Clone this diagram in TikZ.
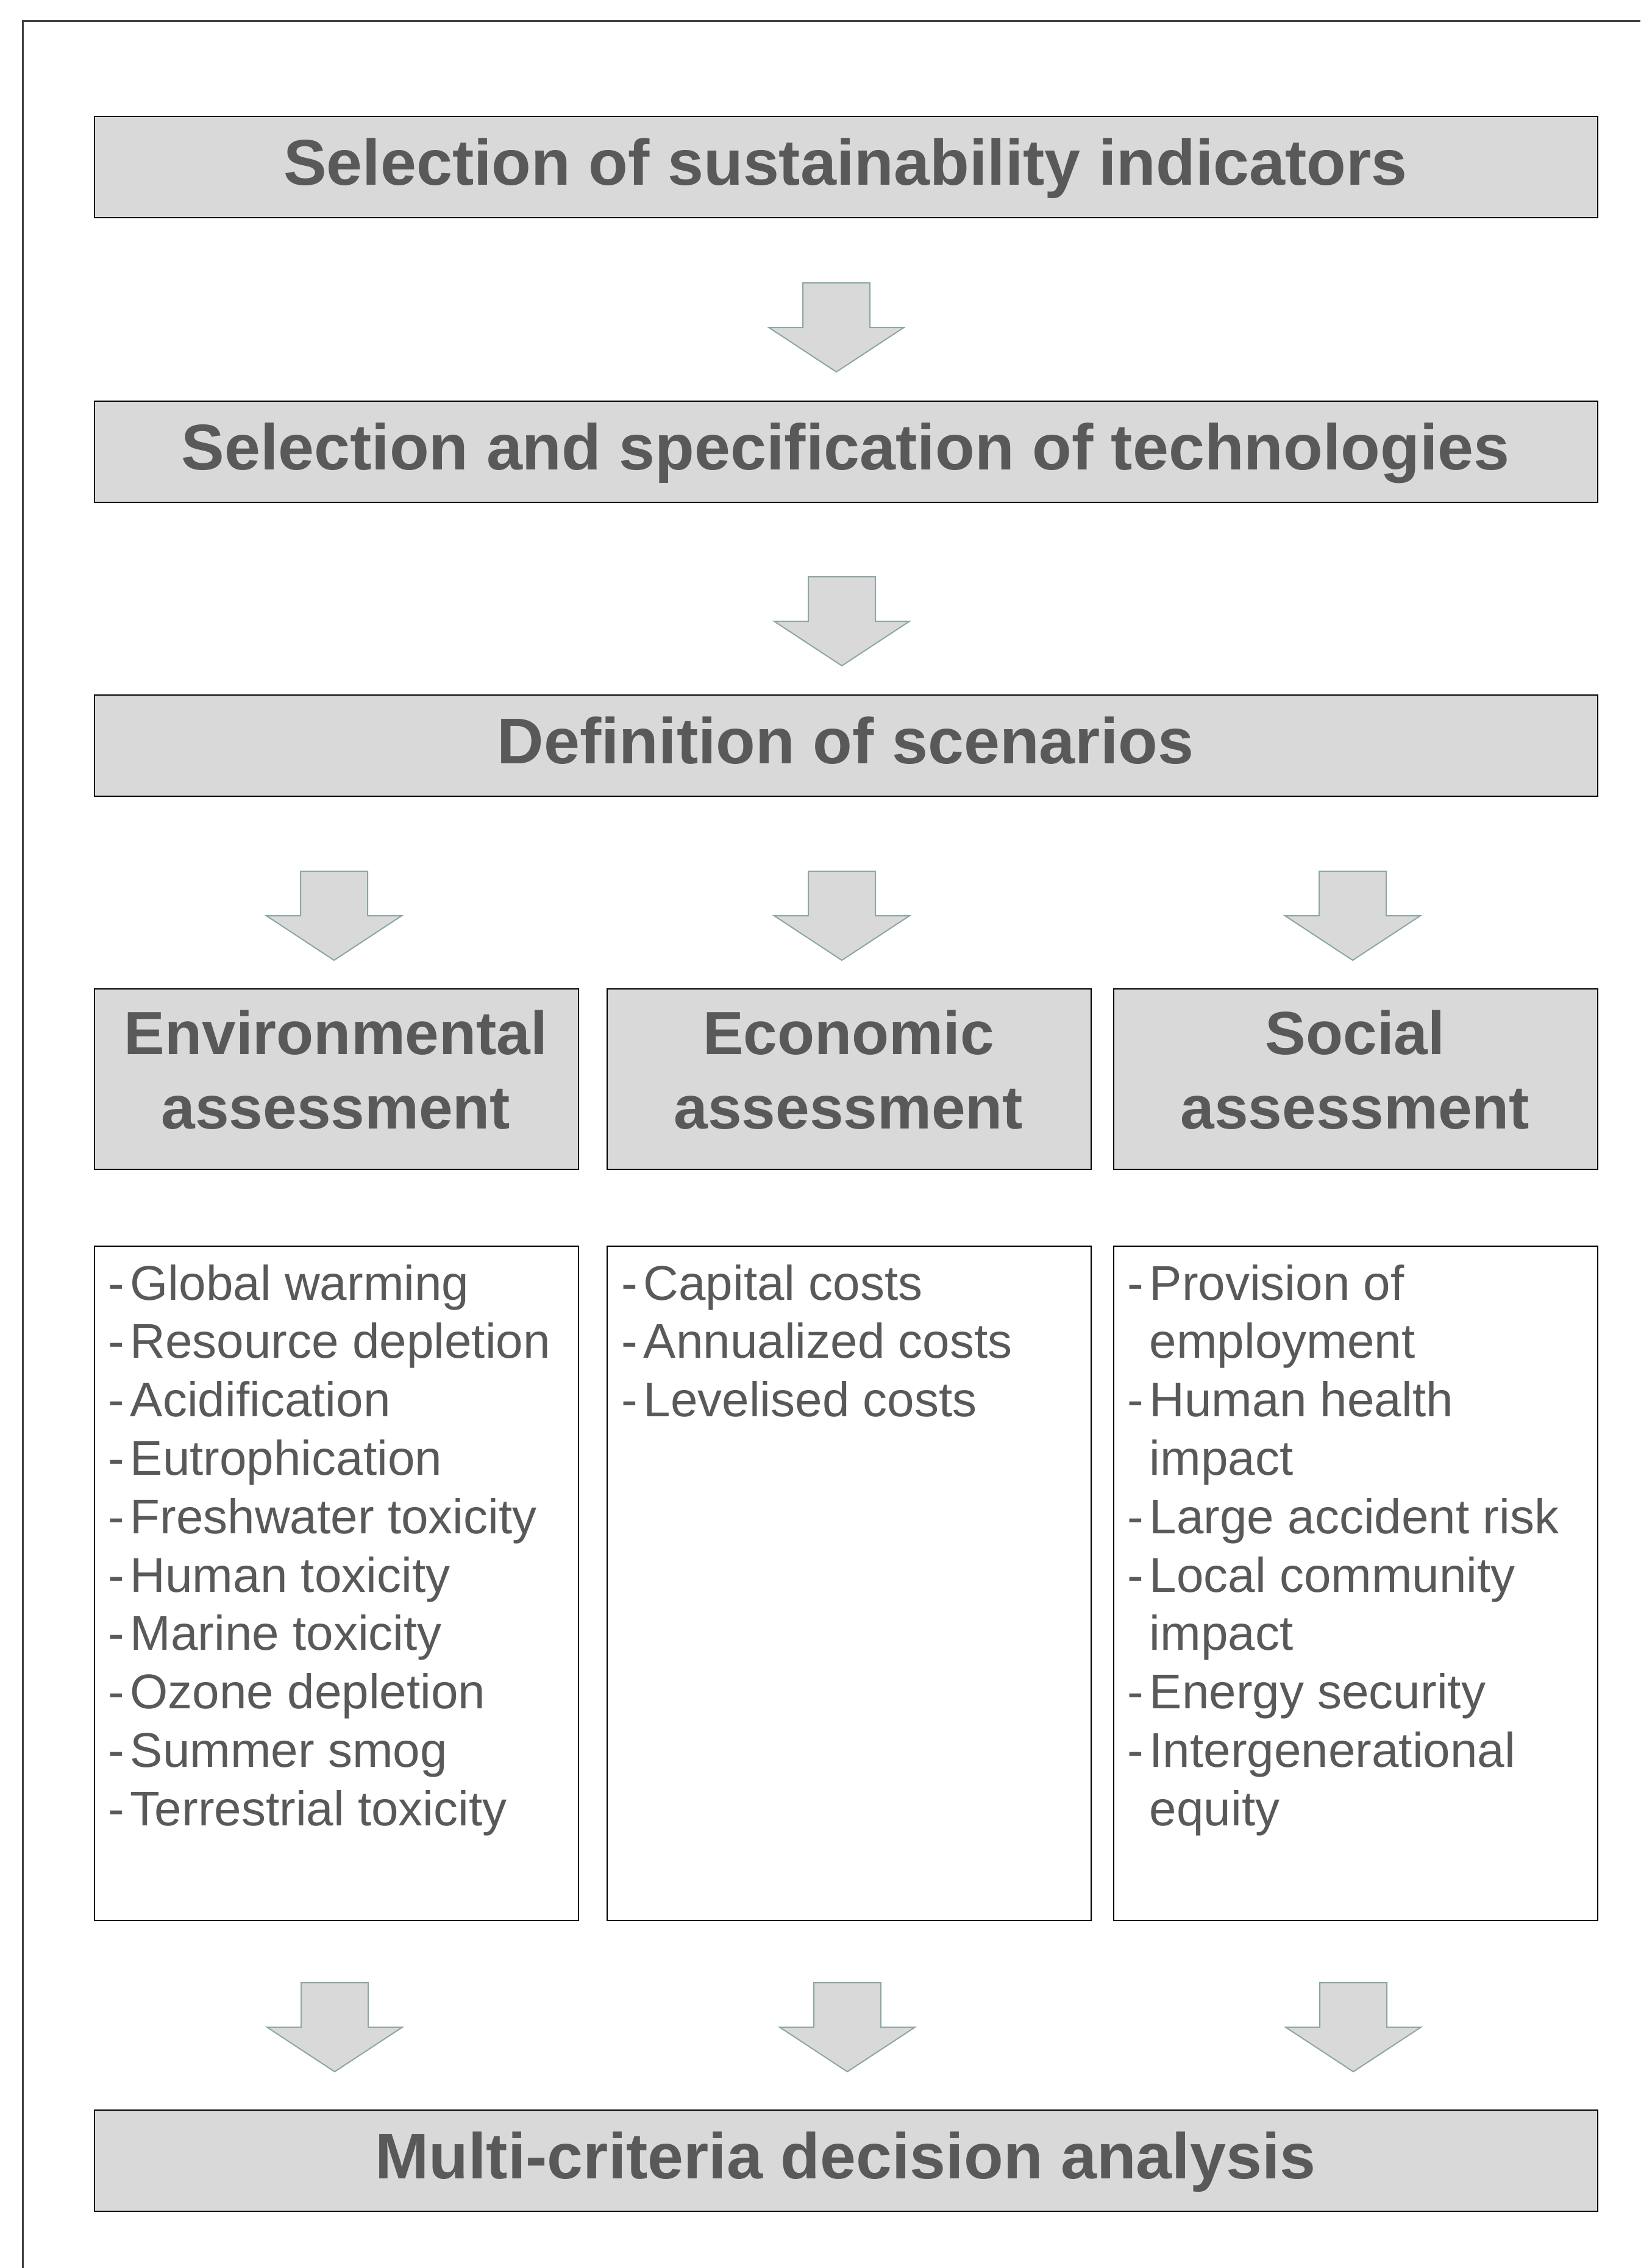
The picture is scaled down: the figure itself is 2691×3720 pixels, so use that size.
\documentclass[tikz,border=0pt]{standalone}
\usepackage{fontspec}
\setmainfont{Liberation Sans}
\definecolor{txt}{HTML}{595959}
\definecolor{boxfill}{HTML}{D9D9D9}
\definecolor{arrowline}{RGB}{140,166,166}
\definecolor{framegray}{HTML}{404040}
\begin{document}
\begin{tikzpicture}[x=0.25pt,y=-0.25pt,
  hbox/.style={draw=black, line width=0.6pt, fill=boxfill, inner sep=0, anchor=north west, minimum width=616.5pt, minimum height=41.5pt},
  abox/.style={draw=black, line width=0.6pt, fill=boxfill, inner sep=0, anchor=north west, minimum width=198.5pt, minimum height=74pt},
  lbox/.style={draw=black, line width=0.6pt, fill=white, inner sep=0, anchor=north west, minimum width=198.5pt, minimum height=276.5pt},
  htext/.style={text=txt, font=\fontsize{26.5}{32}\selectfont\bfseries, inner sep=0, anchor=base},
  atext/.style={text=txt, font=\fontsize{25}{30.5}\selectfont\bfseries, inner sep=0, anchor=base},
  ltext/.style={text=txt, font=\fontsize{20}{24}\selectfont, inner sep=0, anchor=base west},
  blockarrow/.pic={\draw[draw=arrowline, line width=0.5pt, fill=boxfill, line join=miter]
    (-55,0) -- (55,0) -- (55,73) -- (111,73) -- (0,146) -- (-111,73) -- (-55,73) -- cycle;}
]
\useasboundingbox (0,0) rectangle (2691,3720);
% frame
\draw[framegray, line width=0.75pt] (37,3720) -- (37,34) -- (2691,34);

% wide boxes
\node[hbox] (b1) at (154,190) {};
\node[htext] (t1) at (1387,303) {Selection of sustainability indicators};
\node[hbox] (b2) at (154,657) {};
\node[htext] (t2) at (1387,770) {Selection and specification of technologies};
\node[hbox] (b3) at (154,1139) {};
\node[htext] (t3) at (1387,1252) {Definition of scenarios};
\node[hbox] (b4) at (154,3460) {};
\node[htext] (t4) at (1387,3573) {Multi-criteria decision analysis};

% assessment boxes
\node[abox] (env) at (154,1621) {};
\node[atext] (envA) at (551,1729) {Environmental};
\node[atext] (envB) at (551,1851) {assessment};
\node[abox] (eco) at (995,1621) {};
\node[atext] (ecoA) at (1392,1729) {Economic};
\node[atext] (ecoB) at (1392,1851) {assessment};
\node[abox] (soc) at (1826,1621) {};
\node[atext] (socA) at (2223,1729) {Social};
\node[atext] (socB) at (2223,1851) {assessment};

% list boxes
\node[lbox] (envL) at (154,2043) {};
\node[lbox] (ecoL) at (995,2043) {};
\node[lbox] (socL) at (1826,2043) {};

\foreach \d/\t [count=\i from 0] in {1/Global warming, 1/Resource depletion, 1/Acidification, 1/Eutrophication, 1/Freshwater toxicity, 1/Human toxicity, 1/Marine toxicity, 1/Ozone depletion, 1/Summer smog, 1/Terrestrial toxicity}
  \node[ltext] (envl\i) at (177,{2132+95.8*\i}) {\makebox[9pt][l]{\ifnum\d=1 -\fi}\t};

\foreach \d/\t [count=\i from 0] in {1/Capital costs, 1/Annualized costs, 1/Levelised costs}
  \node[ltext] (ecol\i) at (1019,{2132+95.8*\i}) {\makebox[9pt][l]{\ifnum\d=1 -\fi}\t};

\foreach \d/\t [count=\i from 0] in {1/Provision of, 0/employment, 1/Human health, 0/impact, 1/Large accident risk, 1/Local community, 0/impact, 1/Energy security, 1/Intergenerational, 0/equity}
  \node[ltext] (socl\i) at (1849,{2132+95.8*\i}) {\makebox[9pt][l]{\ifnum\d=1 -\fi}\t};

% block arrows
\pic at (1372,464) {blockarrow};
\pic at (1381,946) {blockarrow};
\pic at (548,1429) {blockarrow};
\pic at (1381,1429) {blockarrow};
\pic at (2219,1429) {blockarrow};
\pic at (549,3252) {blockarrow};
\pic at (1390,3252) {blockarrow};
\pic at (2220,3252) {blockarrow};
\end{tikzpicture}
\end{document}
